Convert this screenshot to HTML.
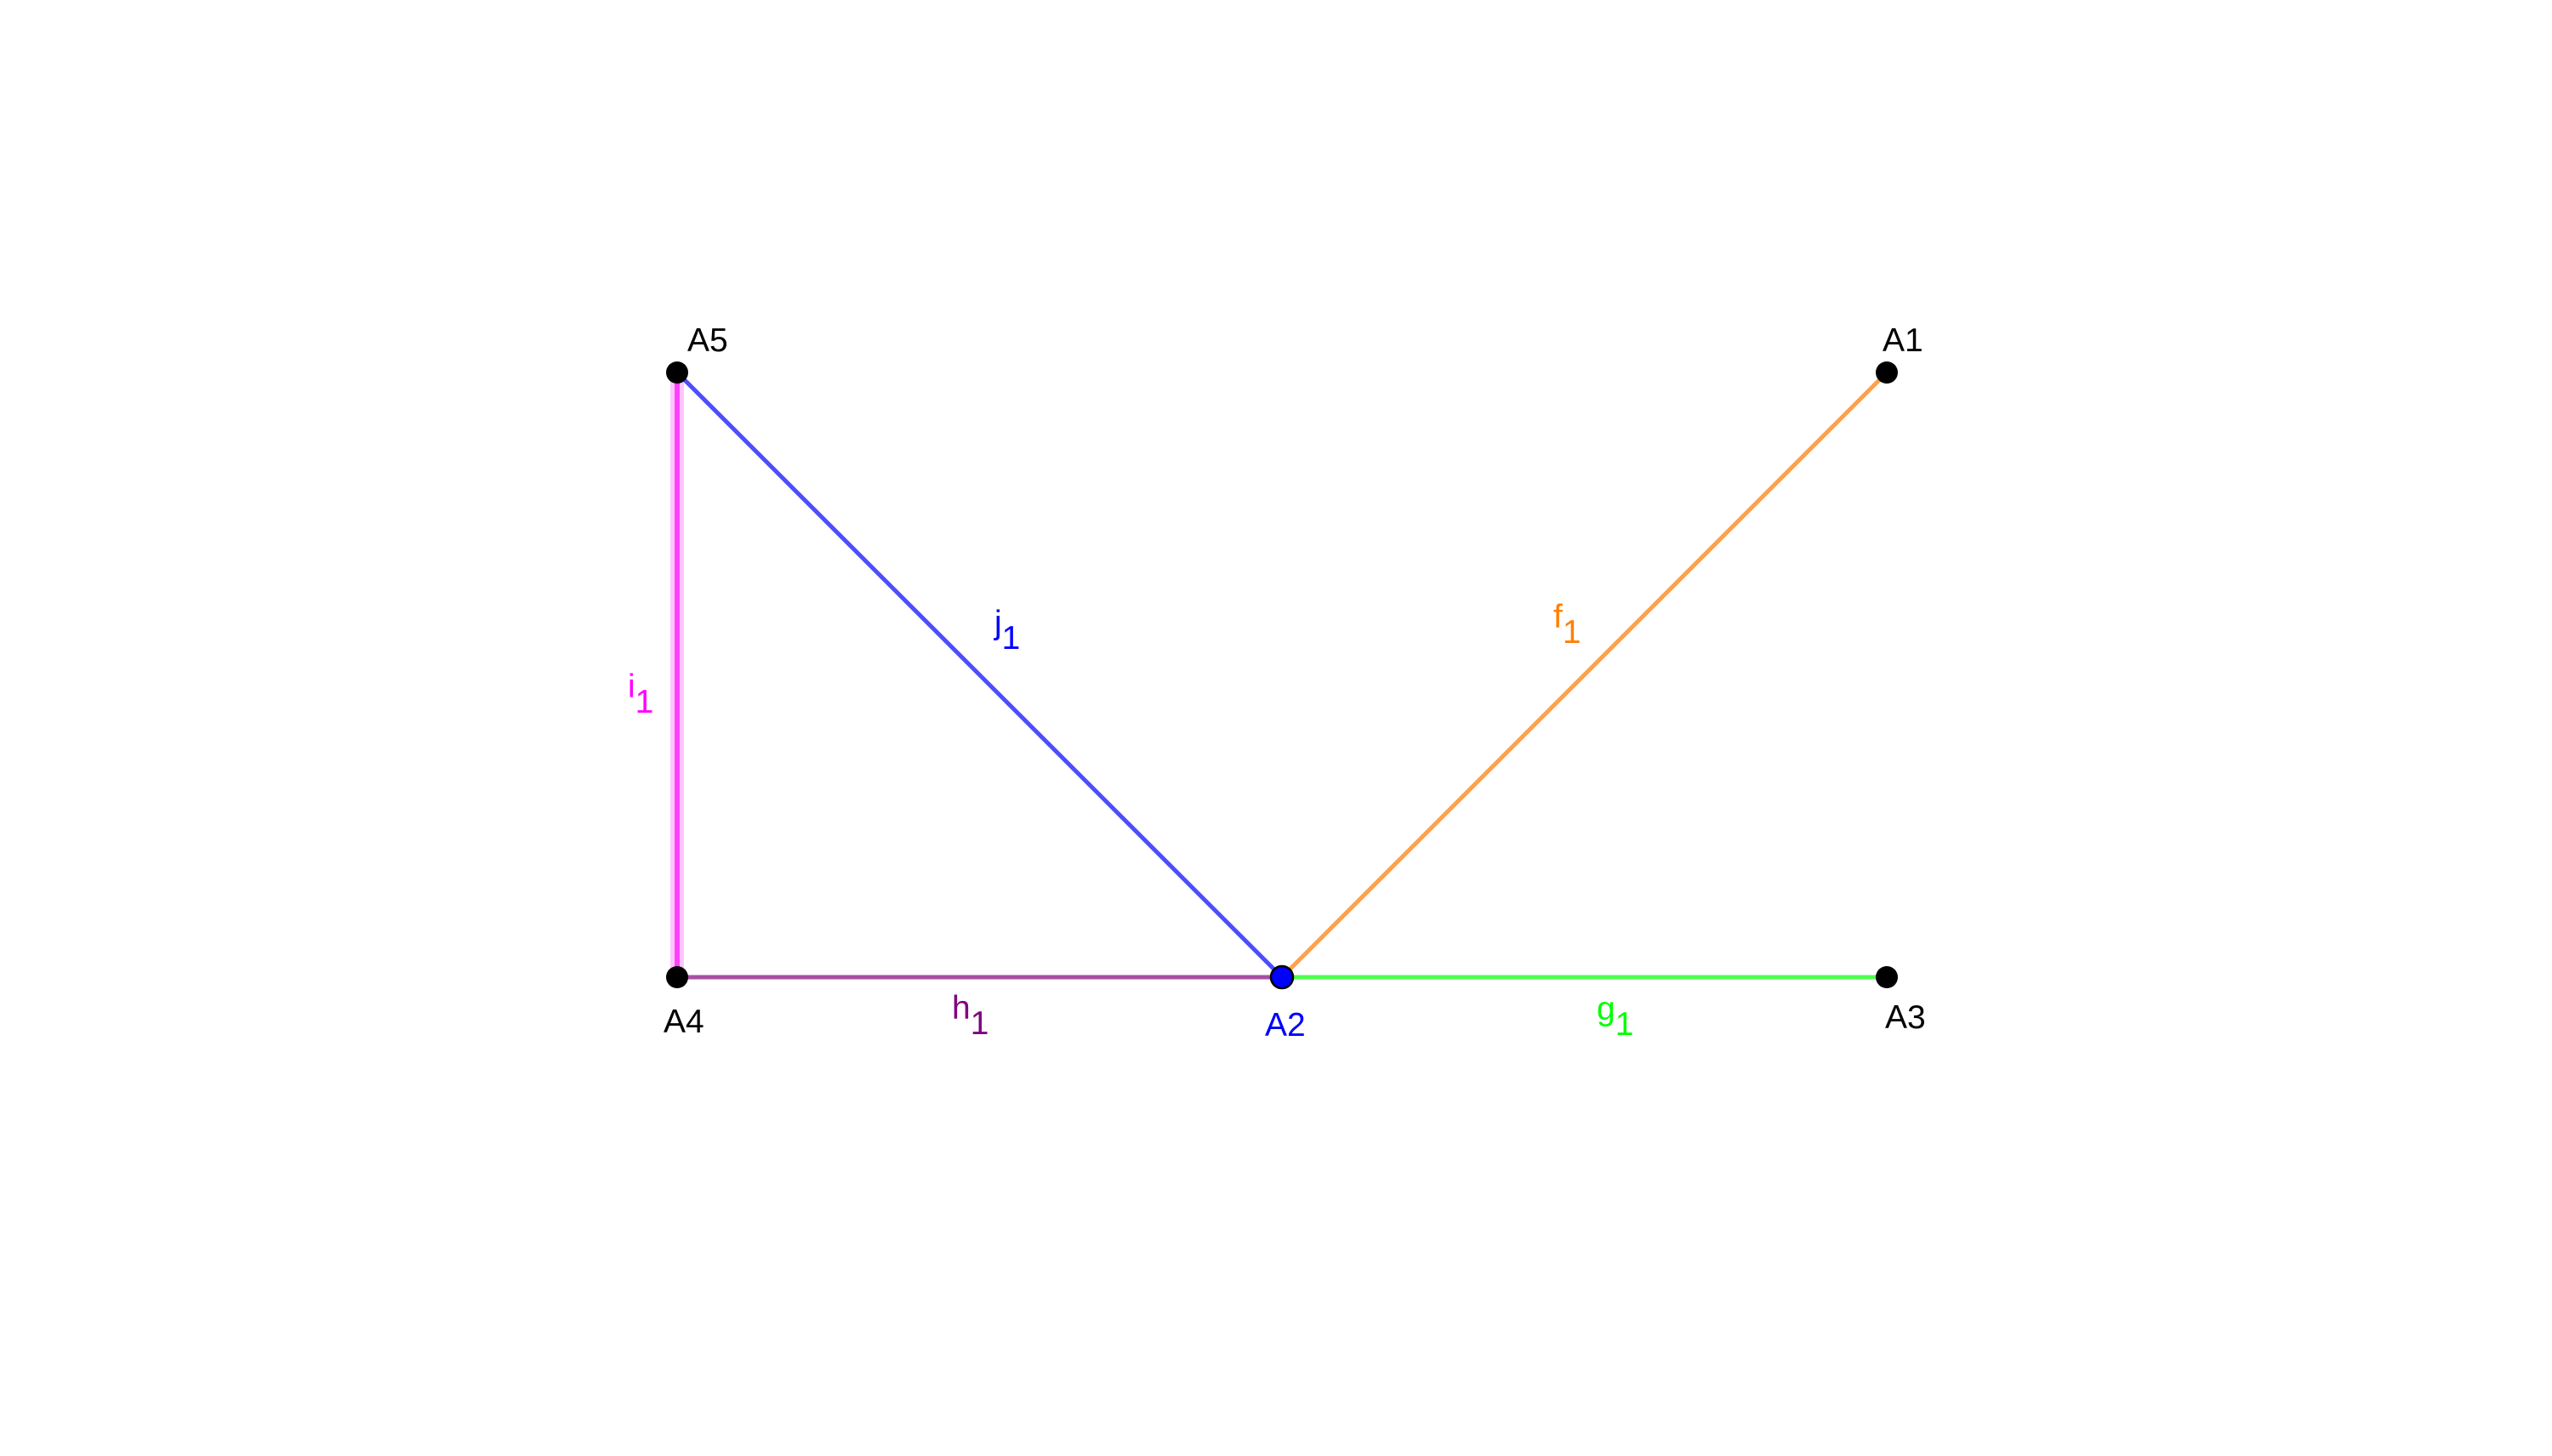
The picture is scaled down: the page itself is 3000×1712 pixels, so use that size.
<!DOCTYPE html>
<html><head><meta charset="utf-8"><style>
html,body{margin:0;padding:0;background:#fff;}
svg{display:block;}
text{font-family:"Liberation Sans",sans-serif;font-size:39px;}
</style></head><body>
<svg id="chart" width="3000" height="1712" viewBox="0 0 3000 1712" xmlns="http://www.w3.org/2000/svg"></svg>
<script>
const pointNames = ["A1","A2","A3","A4","A5"];
const pointX = [2218,1507,2218,796,796];
const pointY = [438,1149,1149,1149,438];
const pointFill = ["#000","#0000ff","#000","#000","#000"];
const labelDX = [-5,-20,-2,-16,12];
const labelDY = [-25,69,60,65,-25];
const labelColor = ["#000","#0000ff","#000","#000","#000"];
const segNames = ["f","g","h","i","j"];
const segFrom = ["A2","A2","A4","A4","A5"];
const segTo = ["A1","A3","A2","A5","A2"];
const segColor = ["#ffa04d","#4dff4d","#a64da6","#ff40ff","#4d4dff"];
const segLabelColor = ["#ff8000","#00ff00","#800080","#ff00ff","#0000ff"];
const segLabelX = [1826,1877,1119,738,1169];
const segLabelY = [738,1199,1198,820,745];

const NS="http://www.w3.org/2000/svg";
const svg=document.getElementById('chart');
function P(n){const i=pointNames.indexOf(n);return [pointX[i],pointY[i]];}
function mk(t,a){const e=document.createElementNS(NS,t);for(const k in a)e.setAttribute(k,a[k]);return e;}

segNames.forEach((s,i)=>{
  const a=P(segFrom[i]), b=P(segTo[i]);
  if(s==="i"){
    const halo=mk('line',{x1:a[0],y1:a[1],x2:b[0],y2:b[1],stroke:'#ffc4ff','stroke-width':16});
    
    
    svg.appendChild(halo);
  }
  const l=mk('line',{x1:a[0],y1:a[1],x2:b[0],y2:b[1],stroke:segColor[i],'stroke-width':s==="i"?6:5});
  
  
  svg.appendChild(l);
});
segNames.forEach((s,i)=>{
  const t=mk('text',{x:segLabelX[i],y:segLabelY[i],fill:segLabelColor[i]});
  
  
  t.textContent=s;
  const sub=mk('tspan',{dy:18});
  sub.textContent='1';
  t.appendChild(sub);
  svg.appendChild(t);
});
pointNames.forEach((n,i)=>{
  const c=mk('circle',{cx:pointX[i],cy:pointY[i],r:13,fill:pointFill[i],stroke:'#000','stroke-width':pointFill[i]==="#000"?0:2.5});
  
  
  svg.appendChild(c);
  const t=mk('text',{x:pointX[i]+labelDX[i],y:pointY[i]+labelDY[i],fill:labelColor[i]});
  
  
  t.textContent=n;
  svg.appendChild(t);
});
</script>
</body></html>
